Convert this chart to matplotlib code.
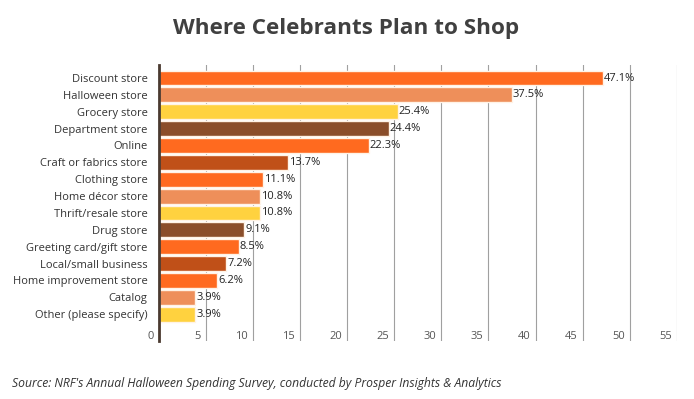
import matplotlib.pyplot as plt

# data
categories = ['Discount store', 'Halloween store', 'Grocery store', 'Department store',
              'Online', 'Craft or fabrics store', 'Clothing store', 'Home décor store',
              'Thrift/resale store', 'Drug store', 'Greeting card/gift store',
              'Local/small business', 'Home improvement store', 'Catalog',
              'Other (please specify)']
values = [47.1, 37.5, 25.4, 24.4, 22.3, 13.7, 11.1, 10.8, 10.8, 9.1, 8.5, 7.2, 6.2, 3.9, 3.9]
colors = ['#FF6A1F', '#EE8F5A', '#FFD23F', '#8B4E2A', '#FF6A1F', '#C05018', '#FF6A1F',
          '#EE8F5A', '#FFD23F', '#8B4E2A', '#FF6A1F', '#C05018', '#FF6A1F', '#EE8F5A',
          '#FFD23F']
xticks = list(range(0, 60, 5))

plt.rcParams['font.family'] = ['Open Sans', 'DejaVu Sans']

fig = plt.figure(figsize=(6.94, 3.99), dpi=100)
ax = fig.add_axes([0.2284, 0.145, 0.7471, 0.692])

ypos = list(range(len(categories)))
ax.barh(ypos, values, height=0.88, color=colors, edgecolor='#FFF3E6', linewidth=1, zorder=3)

for y, v in zip(ypos, values):
    ax.text(v + 0.1, y, f'{v}%', va='center', ha='left', fontsize=8, color='#222222', zorder=4)

ax.set_xlim(0, 55)
ax.set_ylim(15.6, -0.77)
ax.set_xticks(xticks)
ax.set_xticklabels([])
ax.tick_params(axis='x', length=0)
ax.grid(axis='x', color='#A0A0A0', linewidth=0.8, zorder=0)

# tick labels sit inside the plot, left of each grid line
for t in xticks:
    ax.text(t - 0.5, 15.35, str(t), ha='right', va='center', fontsize=8, color='#555555')

ax.set_yticks(ypos)
ax.set_yticklabels(categories, fontsize=8, color='#333333')
ax.tick_params(axis='y', length=0, pad=8)

for s in ['top', 'right', 'bottom']:
    ax.spines[s].set_visible(False)
ax.spines['left'].set_color('#4A3A30')
ax.spines['left'].set_linewidth(2)
ax.spines['left'].set_zorder(5)

fig.text(0.498, 0.928, 'Where Celebrants Plan to Shop', ha='center', va='center',
         fontsize=16.2, fontweight='bold', color='#404040')
fig.text(0.017, 0.04, "Source: NRF's Annual Halloween Spending Survey, conducted by Prosper Insights & Analytics",
         ha='left', va='center', fontsize=8.7, style='italic', color='#333333')

fig.savefig('out.png', dpi=100)
